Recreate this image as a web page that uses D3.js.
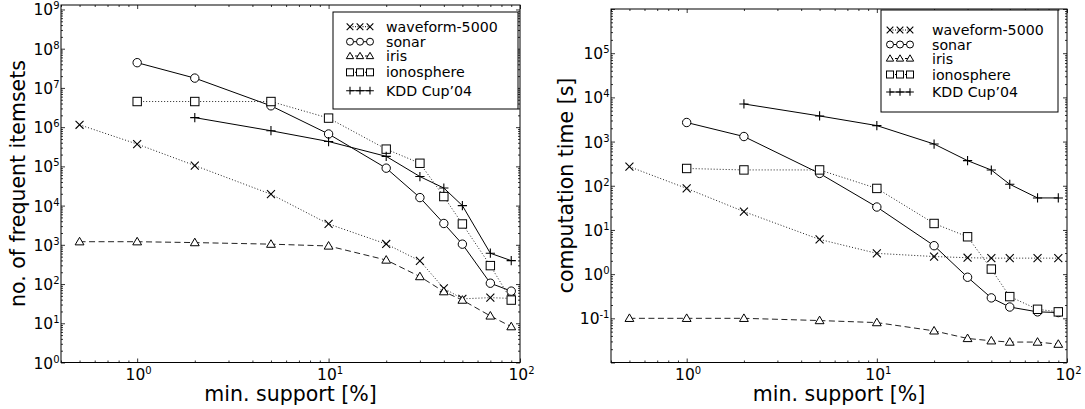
<!DOCTYPE html>
<html>
<head>
<meta charset="utf-8">
<script src="https://cdn.jsdelivr.net/npm/d3@7"></script>
<style>
  body { margin: 0; background: #fff; }
  text { font-family: "DejaVu Sans", sans-serif; fill: #000; }
</style>
</head>
<body>
<svg id="chart" width="1085" height="409"></svg>
<script>
"use strict";

/* ===============================
   Data */
let support = [0.5, 1, 2, 5, 10, 20, 30, 40, 50, 70, 90];   // min. support [%]

let seriesNames = ["waveform-5000", "sonar", "iris", "ionosphere", "KDD Cup\u201904"];

/* no. of frequent itemsets */
let itemsWaveform = [1.15e6, 3.7e5, 1.05e5, 1.95e4, 3.4e3, 1.05e3, 390, 78, 42, 45, 43];
let itemsSonar    = [null, 4.4e7, 1.78e7, 3.5e6, 6.7e5, 9.0e4, 1.6e4, 3.5e3, 1.04e3, 105, 66];
let itemsIris     = [1.2e3, 1.2e3, 1.14e3, 1.04e3, 935, 410, 155, 64, 39, 15.4, 8.2];
let itemsIono     = [null, 4.5e6, 4.5e6, 4.5e6, 1.7e6, 2.75e5, 1.2e5, 1.7e4, 3.4e3, 295, 39];
let itemsKdd      = [null, null, 1.75e6, 8.1e5, 4.3e5, 1.8e5, 5.5e4, 2.8e4, 1.0e4, 610, 395];

/* computation time [s] */
let timeWaveform = [270, 87, 26, 6.1, 2.95, 2.5, 2.35, 2.3, 2.3, 2.3, 2.3];
let timeSonar    = [null, 2.7e3, 1.3e3, 190, 33, 4.4, 0.85, 0.29, 0.18, 0.14, 0.135];
let timeIris     = [0.1, 0.1, 0.1, 0.089, 0.08, 0.052, 0.035, 0.031, 0.029, 0.029, 0.026];
let timeIono     = [null, 246, 228, 228, 87, 14, 7, 1.3, 0.31, 0.16, 0.14];
let timeKdd      = [null, null, 7.1e3, 3.8e3, 2.3e3, 880, 370, 227, 108, 53, 53];

/* tick labels (powers of ten) */
let xTickExps = [0, 1, 2];
let yTickExpsItems = [0, 1, 2, 3, 4, 5, 6, 7, 8, 9];
let yTickExpsTime = [-1, 0, 1, 2, 3, 4, 5];

/* ===============================
   Styles */
let markerShapes = ["x", "circle", "triangle", "square", "plus"];
let dashes = ["1,2", null, "6,3.5", "1,2", null];

let svg = d3.select("#chart");

let panels = [
  {
    left: 61, right: 520, top: 5, bottom: 362.5,
    yDomain: [1, 1.3e9], yExps: yTickExpsItems,
    ylabel: "no. of frequent itemsets", ylabelX: 25, ylabelY: 183.5,
    series: [itemsWaveform, itemsSonar, itemsIris, itemsIono, itemsKdd],
    legend: { x: 333, y: 12, w: 185, h: 97, mx: 350, tx: 386, rows: [14.7, 29.7, 44, 60.3, 78.7] }
  },
  {
    left: 611, right: 1067, top: 9, bottom: 362.5,
    yDomain: [1e-2, 1e6], yExps: yTickExpsTime,
    ylabel: "computation time [s]", ylabelX: 573, ylabelY: 185.5,
    series: [timeWaveform, timeSonar, timeIris, timeIono, timeKdd],
    legend: { x: 881, y: 10, w: 177, h: 102, mx: 890, tx: 932, rows: [20, 34.5, 48.5, 64.5, 82] }
  }
];

/* minor log ticks between domain ends */
function minorTicks(domain) {
  let out = [];
  let lo = Math.floor(Math.log10(domain[0]));
  let hi = Math.ceil(Math.log10(domain[1]));
  for (let d = lo; d < hi; d++) {
    for (let m = 2; m <= 9; m++) {
      let v = m * Math.pow(10, d);
      if (v >= domain[0] * 0.999 && v <= domain[1] * 1.001) out.push(v);
    }
  }
  return out;
}

function majorTicks(domain) {
  let out = [];
  let lo = Math.ceil(Math.log10(domain[0]) - 1e-9);
  let hi = Math.floor(Math.log10(domain[1]) + 1e-9);
  for (let d = lo; d <= hi; d++) out.push(Math.pow(10, d));
  return out;
}

function drawMarker(g, shape, cx, cy, s) {
  if (shape === "circle") {
    g.append("circle").attr("cx", cx).attr("cy", cy).attr("r", s)
      .attr("fill", "white").attr("stroke", "black").attr("stroke-width", 1);
  } else if (shape === "square") {
    g.append("rect").attr("x", cx - s).attr("y", cy - s)
      .attr("width", 2 * s).attr("height", 2 * s)
      .attr("fill", "white").attr("stroke", "black").attr("stroke-width", 1);
  } else if (shape === "triangle") {
    let p = [[cx, cy - s * 1.05], [cx - s * 1.05, cy + s * 0.75], [cx + s * 1.05, cy + s * 0.75]];
    g.append("path").attr("d", "M" + p.join("L") + "Z")
      .attr("fill", "white").attr("stroke", "black").attr("stroke-width", 1);
  } else if (shape === "x") {
    let k = s * 0.95;
    g.append("path")
      .attr("d", "M" + (cx - k) + "," + (cy - k) + "L" + (cx + k) + "," + (cy + k) +
                 "M" + (cx - k) + "," + (cy + k) + "L" + (cx + k) + "," + (cy - k))
      .attr("stroke", "black").attr("stroke-width", 1.1).attr("fill", "none");
  } else if (shape === "plus") {
    let k = s * 1.1;
    g.append("path")
      .attr("d", "M" + (cx - k) + "," + cy + "L" + (cx + k) + "," + cy +
                 "M" + cx + "," + (cy - k) + "L" + cx + "," + (cy + k))
      .attr("stroke", "black").attr("stroke-width", 1.1).attr("fill", "none");
  }
}

function powerLabel(g, x, y, exp, anchor) {
  let t = g.append("text")
    .attr("x", x).attr("y", y)
    .attr("text-anchor", anchor)
    .attr("font-size", 15.5);
  t.append("tspan").text("10");
  t.append("tspan").attr("font-size", 10).attr("dy", -6)
    .text(exp < 0 ? "-" + Math.abs(exp) : String(exp));
}

panels.forEach(function (p) {
  let g = svg.append("g");

  let xScale = d3.scaleLog().domain([0.4, 100]).range([p.left, p.right]);
  let yScale = d3.scaleLog().domain(p.yDomain).range([p.bottom, p.top]);

  let xMinor = minorTicks(xScale.domain());
  let yMinor = minorTicks(yScale.domain());
  let xMajor = majorTicks(xScale.domain());
  let yMajor = majorTicks(yScale.domain());

  /* inward ticks on all four sides */
  let axes = [
    [d3.axisBottom(xScale), "translate(0," + p.bottom + ")", xMajor, xMinor],
    [d3.axisTop(xScale), "translate(0," + p.top + ")", xMajor, xMinor],
    [d3.axisLeft(yScale), "translate(" + p.left + ",0)", yMajor, yMinor],
    [d3.axisRight(yScale), "translate(" + p.right + ",0)", yMajor, yMinor]
  ];
  axes.forEach(function (a) {
    let major = a[0].tickValues(a[2]).tickSize(-4).tickFormat("");
    let ga = g.append("g").attr("transform", a[1]).call(major);
    ga.select(".domain").remove();
    let minor = a[0].tickValues(a[3]).tickSize(-2).tickFormat("");
    let gm = g.append("g").attr("transform", a[1]).call(minor);
    gm.select(".domain").remove();
  });
  g.selectAll(".tick line").attr("stroke", "black").attr("stroke-width", 0.8);

  /* tick labels */
  xTickExps.forEach(function (e) {
    powerLabel(g, xScale(Math.pow(10, e)) + 1.5, p.bottom + 17, e, "middle");
  });
  p.yExps.forEach(function (e) {
    powerLabel(g, p.left - 1.5, yScale(Math.pow(10, e)) + 6, e, "end");
  });

  /* series */
  let line = d3.line()
    .defined(function (d) { return d.v != null; })
    .x(function (d) { return xScale(d.s); })
    .y(function (d) { return yScale(d.v); });

  p.series.forEach(function (vals, i) {
    let pts = support.map(function (s, j) { return { s: s, v: vals[j] }; });
    let path = g.append("path")
      .datum(pts)
      .attr("d", line)
      .attr("fill", "none")
      .attr("stroke", dashes[i] ? "#222" : "black")
      .attr("stroke-width", 1);
    if (dashes[i]) path.attr("stroke-dasharray", dashes[i]);

    pts.filter(function (d) { return d.v != null; }).forEach(function (d) {
      drawMarker(g, markerShapes[i], xScale(d.s), yScale(d.v), 4.2);
    });
  });

  /* axes box */
  g.append("rect")
    .attr("x", p.left).attr("y", p.top)
    .attr("width", p.right - p.left).attr("height", p.bottom - p.top)
    .attr("fill", "none").attr("stroke", "black").attr("stroke-width", 1);

  /* axis labels */
  g.append("text")
    .attr("x", (p.left + p.right) / 2)
    .attr("y", 400.5)
    .attr("text-anchor", "middle")
    .attr("font-size", 20.5)
    .text("min. support [%]");

  g.append("text")
    .attr("transform", "translate(" + p.ylabelX + "," + p.ylabelY + ") rotate(-90)")
    .attr("text-anchor", "middle")
    .attr("font-size", 20.5)
    .text(p.ylabel);

  /* legend */
  let L = p.legend;
  g.append("rect")
    .attr("x", L.x).attr("y", L.y).attr("width", L.w).attr("height", L.h)
    .attr("fill", "white").attr("stroke", "black").attr("stroke-width", 1);

  seriesNames.forEach(function (name, i) {
    let cy = L.y + L.rows[i];
    let seg = g.append("line")
      .attr("x1", L.mx).attr("x2", L.mx + 20)
      .attr("y1", cy).attr("y2", cy)
      .attr("stroke", "black").attr("stroke-width", 1);
    if (dashes[i]) seg.attr("stroke-dasharray", i === 2 ? "3,2" : "1,1.5");
    for (let k = 0; k < 3; k++) {
      drawMarker(g, markerShapes[i], L.mx + k * 10, cy, 3.5);
    }
    g.append("text")
      .attr("x", L.tx)
      .attr("y", cy + 5)
      .attr("font-size", 14.2)
      .text(name);
  });
});
</script>
</body>
</html>
